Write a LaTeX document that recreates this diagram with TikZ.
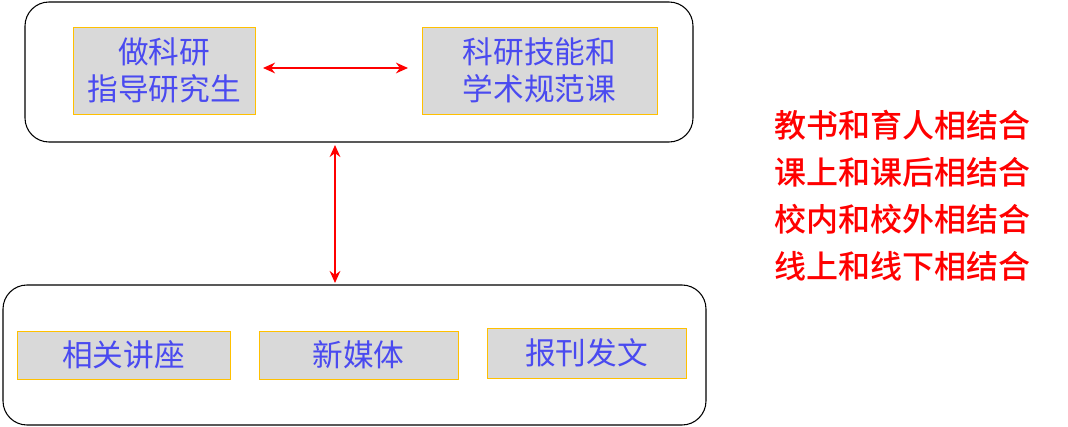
\documentclass[tikz,border=0pt]{standalone}
\usepackage{fontspec}
\newfontfamily\cjk{Noto Sans CJK SC}
\newfontfamily\cjkm{Noto Sans CJK SC Medium}
\usetikzlibrary{arrows.meta}
\definecolor{ibox}{HTML}{D9D9D9}
\definecolor{iedge}{HTML}{FFC000}
\definecolor{itext}{HTML}{4A4AF0}
\tikzset{
  outer/.style={draw=black,rounded corners=18pt,line width=0.8pt},
  inner/.style={draw=iedge,fill=ibox,line width=0.6pt},
  lbl/.style={font=\cjk\fontsize{23}{28}\selectfont,text=itext,align=center},
  red/.style={font=\cjkm\fontsize{24}{28}\selectfont,text=red,anchor=west},
  arr/.style={draw=red,line width=1.8pt,{Stealth[length=9pt,width=8pt]}-{Stealth[length=9pt,width=8pt]}}
}
\begin{document}
\begin{tikzpicture}[x=0.75pt,y=-0.75pt]
\useasboundingbox (0,0) rectangle (1068,427);
\draw[outer] (25,2) rectangle (693,142);
\draw[outer] (3,285) rectangle (706,425);
\draw[inner] (73,27) rectangle (255,114); \node[lbl] (a) at (164,70.5) {做科研\\指导研究生};
\draw[inner] (422,27) rectangle (657,114); \node[lbl] (b) at (539.5,70.5) {科研技能和\\学术规范课};
\draw[inner] (17,331) rectangle (230,379); \node[lbl] (c) at (123.5,355) {相关讲座};
\draw[inner] (259,331) rectangle (458,379); \node[lbl] (d) at (358.5,355) {新媒体};
\draw[inner] (487,328) rectangle (686,378); \node[lbl] (e) at (586.5,353) {报刊发文};
\coordinate (l) at (263,68); \coordinate (r) at (408,68);
\coordinate (t) at (335,145); \coordinate (u) at (335,283);
\draw[arr] (l) -- (r);
\draw[arr] (t) -- (u);
\node[red] (r1) at (770,125) {教书和育人相结合};
\node[red] (r2) at (770,172) {课上和课后相结合};
\node[red] (r3) at (770,219) {校内和校外相结合};
\node[red] (r4) at (770,266) {线上和线下相结合};
\end{tikzpicture}
\end{document}
